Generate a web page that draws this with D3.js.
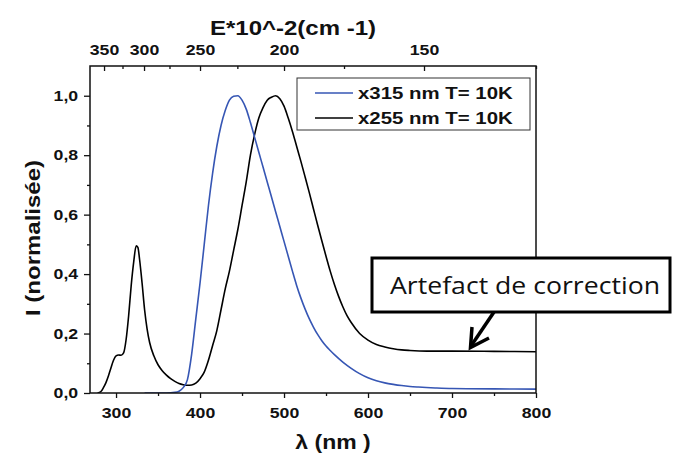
<!DOCTYPE html>
<html><head><meta charset="utf-8">
<script src="https://cdn.jsdelivr.net/npm/d3@7"></script>
<style>
html,body{margin:0;padding:0;background:#fff;}
svg{display:block;}
.ax text{font-family:"Liberation Sans",Arial,sans-serif;font-weight:bold;font-size:15px;fill:#111;}
.ax path.domain{display:none;}
.ax line{stroke:#111;stroke-width:1.3px;}
</style>
</head><body>
<svg id="c" width="675" height="455"></svg>
<script>
// ---- data ----
const lambdaBlue = [334,350,360,370,375,380,385,390,395,400,405,410,415,420,425,430,435,440,445,450,455,460,465,470,475,480,485,490,495,500,505,510,515,520,525,530,535,540,545,550,555,560,570,580,590,600,610,620,630,640,650,660,680,700,750,800];
const intensityBlue = [0,0,0,0.002,0.006,0.018,0.045,0.13,0.25,0.37,0.5,0.63,0.74,0.83,0.9,0.95,0.985,0.998,1.0,0.985,0.955,0.91,0.86,0.81,0.76,0.71,0.66,0.61,0.56,0.51,0.46,0.41,0.362,0.32,0.283,0.25,0.222,0.197,0.176,0.158,0.143,0.129,0.104,0.083,0.065,0.051,0.041,0.034,0.029,0.025,0.022,0.02,0.017,0.015,0.014,0.013];
const lambdaBlack = [278,282,285,288,291,294,297,300,303,306,309,312,315,318,321,324,326,328,331,334,337,340,345,350,355,360,365,370,375,380,385,390,395,400,405,410,415,420,425,430,435,440,445,450,455,460,465,470,475,480,485,490,495,500,505,510,515,520,525,530,535,540,545,550,555,560,565,570,575,580,590,600,610,620,630,640,650,670,700,750,800];
const intensityBlack = [0,0.005,0.018,0.035,0.058,0.085,0.11,0.125,0.128,0.127,0.135,0.18,0.26,0.36,0.44,0.495,0.49,0.45,0.37,0.28,0.215,0.17,0.125,0.095,0.075,0.06,0.048,0.039,0.032,0.028,0.026,0.027,0.033,0.048,0.07,0.11,0.16,0.21,0.28,0.35,0.41,0.48,0.55,0.63,0.71,0.8,0.87,0.925,0.96,0.985,0.995,1.0,0.99,0.965,0.925,0.88,0.83,0.78,0.728,0.675,0.62,0.565,0.512,0.46,0.41,0.365,0.325,0.29,0.26,0.237,0.2,0.178,0.163,0.155,0.149,0.145,0.143,0.141,0.141,0.14,0.139];
const xMajorTicks = [300,400,500,600,700,800];
const xMinorTicks = [350,450,550,650,750];
const yMajorTicks = [0,0.2,0.4,0.6,0.8,1.0];
const yMinorTicks = [0.1,0.3,0.5,0.7,0.9];
const eMajorTicks = [350,300,250,200,150];
const eMinorTicks = [325,275,225,175,125];
const legendLabels = ["x315 nm T= 10K","x255 nm T= 10K"];
const seriesColors = ["#3656b4","#000000"];
const annotationText = "Artefact de correction";

// ---- layout ----
const L=90, R=536, T=66, B=393;
const svg = d3.select("#c");
const x = d3.scaleLinear().domain([269,800]).range([L,R]);
const y = d3.scaleLinear().domain([0,1.1]).range([B,T]);
const SX = 1.18;

// axes
const gB = svg.append("g").attr("class","ax").attr("transform",`translate(0,${B})`)
  .call(d3.axisBottom(x).tickValues(xMajorTicks).tickSize(5).tickPadding(9).tickFormat(d3.format("d")));
svg.append("g").attr("class","ax").attr("transform",`translate(0,${B})`)
  .call(d3.axisBottom(x).tickValues(xMinorTicks).tickSize(3).tickFormat(""));
const gL = svg.append("g").attr("class","ax").attr("transform",`translate(${L},0)`)
  .call(d3.axisLeft(y).tickValues(yMajorTicks).tickSize(6).tickPadding(4).tickFormat(d=>d3.format(".1f")(d).replace(".",",")));
svg.append("g").attr("class","ax").attr("transform",`translate(${L},0)`)
  .call(d3.axisLeft(y).tickValues(yMinorTicks).tickSize(3).tickFormat(""));
const gT = svg.append("g").attr("class","ax").attr("transform",`translate(0,${T})`)
  .call(d3.axisTop(x).tickValues(eMajorTicks.map(e=>1e5/e)).tickSize(-5).tickPadding(11).tickFormat(d=>Math.round(1e5/d)));
svg.append("g").attr("class","ax").attr("transform",`translate(0,${T})`)
  .call(d3.axisTop(x).tickValues(eMinorTicks.map(e=>1e5/e)).tickSize(-3).tickFormat(""));
[gB,gL,gT].forEach(g=>g.selectAll("text").attr("transform",`scale(${SX},1)`));

// curves
svg.append("clipPath").attr("id","clip").append("rect").attr("x",L).attr("y",T).attr("width",R-L).attr("height",B-T);
const line = d3.line().x(d=>x(d[0])).y(d=>y(d[1])).curve(d3.curveMonotoneX);
const blue = lambdaBlue.map((l,i)=>[l,intensityBlue[i]]);
const black = lambdaBlack.map((l,i)=>[l,intensityBlack[i]]);
const gc = svg.append("g").attr("clip-path","url(#clip)");
gc.append("path").attr("d",line(black)).attr("fill","none").attr("stroke",seriesColors[1]).attr("stroke-width",1.6);
gc.append("path").attr("d",line(blue)).attr("fill","none").attr("stroke",seriesColors[0]).attr("stroke-width",1.6);

// frame
svg.append("rect").attr("x",L).attr("y",T).attr("width",R-L).attr("height",B-T)
  .attr("fill","none").attr("stroke","#111").attr("stroke-width",1.5);

// axis titles
const tf = 'font-family:"Liberation Sans",Arial,sans-serif;font-weight:bold;fill:#111;';
svg.append("text").attr("transform",`translate(293,35) scale(1.2,1)`).attr("text-anchor","middle")
  .attr("style",tf+"font-size:20px").text("E*10^-2(cm -1)");
svg.append("text").attr("transform",`translate(333,449) scale(1.15,1)`).attr("text-anchor","middle")
  .attr("style",tf+"font-size:20px").text("λ (nm )");
svg.append("text").attr("transform",`translate(40,238) rotate(-90) scale(1.2,1)`).attr("text-anchor","middle")
  .attr("style",tf+"font-size:20px").text("I (normalisée)");

// legend
const lg = svg.append("g");
lg.append("rect").attr("x",297).attr("y",78).attr("width",233).attr("height",52)
  .attr("fill","#fff").attr("stroke","#333").attr("stroke-width",1);
legendLabels.forEach((lab,i)=>{
  const yy = 93 + i*25;
  lg.append("line").attr("x1",315).attr("x2",353).attr("y1",yy).attr("y2",yy)
    .attr("stroke",seriesColors[i]).attr("stroke-width",1.6);
  lg.append("text").attr("transform",`translate(358,${yy+6}) scale(1.2,1)`)
    .attr("style",tf+"font-size:17px").text(lab);
});

// annotation
const an = svg.append("g");
an.append("rect").attr("x",372).attr("y",258).attr("width",298).attr("height",54)
  .attr("fill","#fff").attr("stroke","#000").attr("stroke-width",3);
an.append("text").attr("x",390).attr("y",294).attr("textLength",270).attr("lengthAdjust","spacingAndGlyphs")
  .attr("style",'font-family:"Open Sans","Noto Sans",sans-serif;font-size:24px;fill:#111;font-variant-ligatures:none;').text(annotationText);
an.append("line").attr("x1",494).attr("y1",312).attr("x2",471).attr("y2",346)
  .attr("stroke","#000").attr("stroke-width",3.5);
an.append("polyline").attr("points","472,327 470.5,347.5 489,338")
  .attr("fill","none").attr("stroke","#000").attr("stroke-width",3.5).attr("stroke-linejoin","miter");
</script>
</body></html>
